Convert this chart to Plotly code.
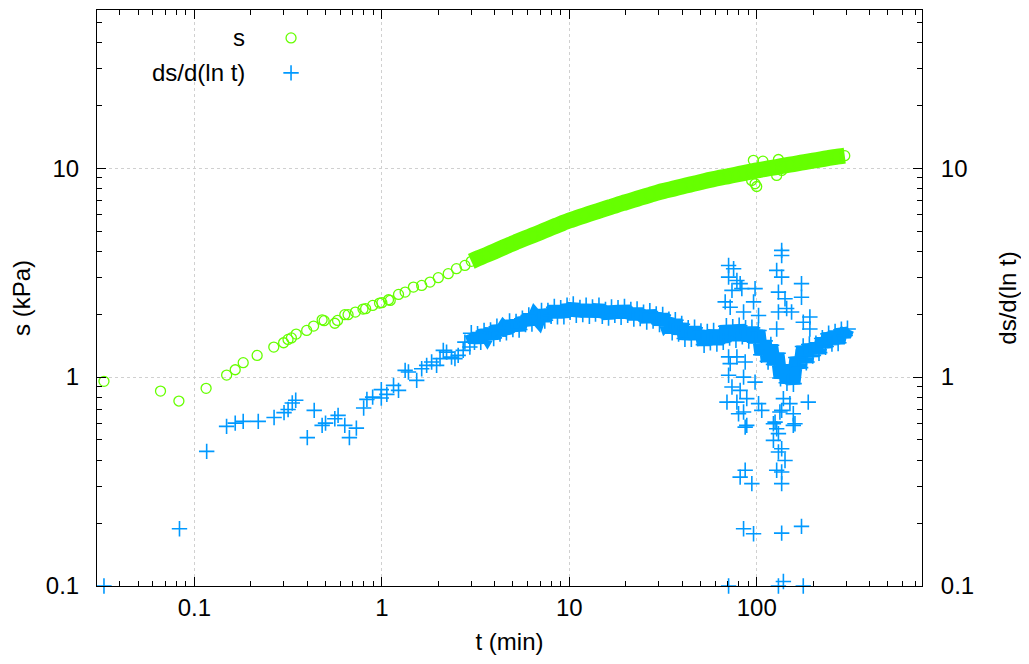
import plotly.graph_objects as go

# ---------------- data ----------------
# drawdown s (kPa), sparse early points and scattered late points
t_s_sparse = [0.0329, 0.0659, 0.0826, 0.1154, 0.1485, 0.165, 0.182, 0.216, 0.265, 0.299,
              0.3157, 0.329, 0.349, 0.397, 0.4323, 0.48, 0.492, 0.561, 0.58, 0.634,
              0.66, 0.722, 0.793, 0.819, 0.893, 0.972, 1.0, 1.085, 1.108, 1.227,
              1.331, 1.474, 1.631, 1.807, 2.0, 2.26, 2.5, 2.773,
              94, 98, 100, 96, 108, 130.6, 127.8, 136, 112]
s_sparse = [0.954, 0.857, 0.768, 0.883, 1.022, 1.084, 1.172, 1.27, 1.392, 1.46,
            1.514, 1.54, 1.606, 1.673, 1.754, 1.88, 1.862, 1.81, 1.867, 1.99,
            1.99, 2.047, 2.115, 2.125, 2.203, 2.26, 2.27, 2.345, 2.328, 2.487,
            2.551, 2.696, 2.747, 2.848, 2.99, 3.125, 3.302, 3.422,
            8.73, 8.42, 8.17, 10.9, 10.8, 11.0, 9.23, 9.75, 9.75]

# drawdown s (kPa), dense part of the record
t_s_dense = [3.0, 3.3, 3.6, 4.0, 4.4, 4.8, 5.3, 5.8, 6.4, 7.0, 7.7, 8.5, 9.3, 10, 11, 12,
             13.5, 15, 16.5, 18, 20, 22, 24, 27, 30, 33, 36, 40, 44, 48, 53, 58, 64, 70,
             77, 85, 93, 100, 110, 120, 135, 150, 165, 180, 200, 220, 240, 265, 295]
s_dense = [3.58, 3.72, 3.84, 4.00, 4.15, 4.30, 4.46, 4.61, 4.77, 4.93, 5.11, 5.30, 5.48,
           5.62, 5.78, 5.93, 6.14, 6.33, 6.51, 6.68, 6.87, 7.05, 7.22, 7.45, 7.67, 7.83,
           7.98, 8.17, 8.34, 8.49, 8.68, 8.84, 9.00, 9.14, 9.30, 9.47, 9.62, 9.75, 9.90,
           10.03, 10.22, 10.39, 10.54, 10.69, 10.86, 11.02, 11.16, 11.33, 11.48]

# derivative ds/d(ln t), sparse early points and scattered late points
t_ds_sparse = [0.0329, 0.0832, 0.1162, 0.1484, 0.165, 0.182, 0.219, 0.266, 0.3006, 0.316,
               0.3326, 0.347, 0.400, 0.4355, 0.480, 0.5005, 0.561, 0.584, 0.634, 0.671,
               0.731, 0.7995, 0.832, 0.893, 0.993, 0.993, 1.063, 1.154, 1.227, 1.331,
               1.386, 1.534, 1.631, 1.734, 1.843, 1.959, 2.043, 2.127, 2.214, 2.354,
               2.454, 2.554, 2.716, 2.773, 2.948,
               70.8, 75.3, 70.8, 78.4, 81.6, 73.8, 83.3, 98, 67.9, 96.2,
               72.2, 85.1, 102.3, 135.9, 135.9, 127.8, 135.9, 130.6, 141.6, 173.4,
               173.4, 144.5, 130.6, 153.5, 192.2, 177.2, 192.2, 127.8, 70.8, 72.2,
               78.4, 86.8, 70.8, 85.1, 98, 73.8, 81.6, 69.4, 78.4, 88.5,
               102.3, 106.4, 80, 85.1, 88.5, 125.3, 135.9, 156.8, 160, 188.4,
               150.4, 138.8, 133, 86.8, 122.8, 127.8, 156.8, 130.6, 122.8, 135.9,
               130.6, 141.6, 86.8, 81.6, 94.2, 127.8, 135.9, 135.9, 85.1, 96.2,
               135.9, 173.4, 70.8, 130.6, 138.8, 177.2]
ds_sparse = [0.1, 0.188, 0.441, 0.581, 0.602, 0.614, 0.614, 0.64, 0.676, 0.70,
             0.751, 0.774, 0.513, 0.693, 0.587, 0.602, 0.632, 0.656, 0.587, 0.513,
             0.570, 0.711, 0.782, 0.802, 0.871, 0.794, 0.826, 0.913, 0.864, 1.077,
             1.057, 0.964, 1.097, 1.138, 1.18, 1.138, 1.225, 1.342, 1.317, 1.246,
             1.225, 1.27, 1.342, 1.47, 1.392,
             3.42, 3.30, 3.01, 2.90, 2.80, 2.60, 2.65, 2.65, 2.29, 2.29,
             2.16, 2.05, 1.97, 4.04, 3.82, 3.24, 3.01, 2.55, 2.37, 2.80,
             2.41, 2.13, 2.05, 2.05, 1.94, 1.83, 1.70, 1.70, 1.25, 1.16,
             1.25, 1.18, 1.02, 1.0, 0.946, 0.896, 0.864, 0.759, 0.759, 0.789,
             0.746, 0.693, 0.668, 0.680, 0.587, 0.609, 0.693, 0.668, 0.598, 0.759,
             0.746, 0.789, 0.680, 0.576, 0.598, 0.566, 0.587, 0.536, 0.498, 0.454,
             0.438, 0.399, 0.358, 0.332, 0.309, 0.358, 0.351, 0.309, 0.188, 0.178,
             0.179, 0.193, 0.1, 0.1, 0.105, 0.1]

# derivative ds/d(ln t), dense part of the record
t_ds_dense = [3.00, 3.12, 3.24, 3.37, 3.51, 3.65, 3.80, 3.95, 4.11, 4.27,
              4.44, 4.62, 4.80, 5.00, 5.20, 5.40, 5.62, 5.84, 6.08, 6.32,
              6.57, 6.84, 7.11, 7.40, 7.69, 8.00, 8.32, 8.65, 9.00, 9.36,
              9.73, 10.1, 10.5, 10.9, 11.4, 11.8, 12.3, 12.8, 13.3, 13.8,
              14.4, 15.0, 15.6, 16.2, 16.8, 17.5, 18.2, 18.9, 19.7, 20.5,
              21.3, 22.1, 23.0, 23.9, 24.9, 25.9, 26.9, 28.0, 29.1, 30.3,
              31.5, 32.7, 34.0, 35.4, 36.8, 38.3, 39.8, 41.4, 43.1, 44.8,
              46.6, 48.4, 50.4, 52.4, 54.5, 56.6, 58.9, 61.3, 63.7, 66.3,
              68.9, 71.7, 74.5, 77.5, 80.6, 83.8, 87.2, 90.7, 94.3, 98.1,
              102, 106, 110, 115, 119, 124, 129, 134, 140, 145,
              151, 157, 163, 170, 177, 184, 191, 199, 207, 215,
              224, 233, 242, 252, 262, 272, 283, 294, 305]
ds_dense = [1.62, 1.48, 1.60, 1.48, 1.66, 1.57, 1.67, 1.54, 1.74, 1.62,
            1.71, 1.64, 1.84, 1.70, 1.83, 1.69, 1.90, 1.80, 1.97, 1.81,
            1.96, 1.88, 2.07, 1.87, 2.07, 1.97, 2.16, 1.96, 2.13, 1.96,
            2.19, 2.06, 2.22, 1.99, 2.14, 2.01, 2.19, 1.97, 2.15, 2.02,
            2.19, 1.97, 2.09, 1.93, 2.15, 1.99, 2.13, 1.95, 2.16, 1.99,
            2.09, 1.91, 2.10, 1.92, 2.03, 1.85, 2.06, 1.87, 1.99, 1.80,
            1.98, 1.81, 1.88, 1.64, 1.87, 1.62, 1.79, 1.53, 1.71, 1.53,
            1.72, 1.54, 1.65, 1.43, 1.64, 1.47, 1.66, 1.45, 1.61, 1.48,
            1.75, 1.55, 1.73, 1.51, 1.76, 1.57, 1.71, 1.50, 1.72, 1.47,
            1.67, 1.28, 1.49, 1.19, 1.42, 1.15, 1.30, 0.99, 1.14, 0.94,
            1.06, 0.93, 1.24, 1.11, 1.40, 1.18, 1.43, 1.27, 1.44, 1.31,
            1.53, 1.40, 1.61, 1.45, 1.64, 1.46, 1.68, 1.58, 1.70]

x_ticks = [0.1, 1, 10, 100]
x_tick_text = ["0.1", "1", "10", "100"]
y_ticks = [0.1, 1, 10]
y_tick_text = ["0.1", "1", "10"]
x_minor = [0.04, 0.05, 0.06, 0.07, 0.08, 0.09] + [m * 0.1 for m in range(2, 10)] + \
          [m for m in range(2, 10)] + [m * 10 for m in range(2, 10)] + [200, 300, 400, 500, 600, 700]
y_minor = [m * 0.1 for m in range(2, 10)] + [m for m in range(2, 10)] + [20, 30, 40, 50]

labels = ["s", "ds/d(ln t)"]

# ---------------- style ----------------
GREEN = "#66ff00"
BLUE = "#0099ff"
FONT = "Liberation Sans, Arial, Helvetica, sans-serif"
FS = 24
X_RANGE = [-1.52, 2.882]
Y_RANGE = [-1.0, 1.757]

fig = go.Figure()

# s : dense band + sparse circles
fig.add_trace(go.Scatter(
    x=t_s_dense, y=s_dense, mode="lines+markers", name=labels[0], showlegend=False,
    line=dict(color=GREEN, width=16, shape="spline", smoothing=0.8),
    marker=dict(symbol="circle-open", size=10, color=GREEN, line=dict(width=1.3)),
))
fig.add_trace(go.Scatter(
    x=t_s_sparse, y=s_sparse, mode="markers", name=labels[0], showlegend=False,
    marker=dict(symbol="circle-open", size=10, color=GREEN, line=dict(width=1.3)),
))

# ds/d(ln t) : dense band + sparse crosses (right axis)
fig.add_trace(go.Scatter(
    x=t_ds_dense, y=ds_dense, mode="lines+markers", name=labels[1], showlegend=False,
    yaxis="y2",
    line=dict(color=BLUE, width=14),
    marker=dict(symbol="cross-thin-open", size=12, color=BLUE, line=dict(width=1.6, color=BLUE)),
))
fig.add_trace(go.Scatter(
    x=t_ds_sparse, y=ds_sparse, mode="markers", name=labels[1], showlegend=False,
    yaxis="y2", cliponaxis=False,
    marker=dict(symbol="cross-thin-open", size=11, color=BLUE, line=dict(width=1.6, color=BLUE)),
))

# key (text left of symbol, as in the reference)
key_x = 0.2352
key_y = [0.9515, 0.8908]
fig.add_trace(go.Scatter(
    x=[key_x], y=[key_y[0]], xaxis="x2", yaxis="y3", mode="markers", showlegend=False,
    hoverinfo="skip",
    marker=dict(symbol="circle-open", size=10, color=GREEN, line=dict(width=1.3)),
))
fig.add_trace(go.Scatter(
    x=[key_x], y=[key_y[1]], xaxis="x2", yaxis="y3", mode="markers", showlegend=False,
    hoverinfo="skip",
    marker=dict(symbol="cross-thin-open", size=11, color=BLUE, line=dict(width=1.6, color=BLUE)),
))
for lab, yy in zip(labels, key_y):
    fig.add_annotation(text=lab, xref="paper", yref="paper", x=0.1815, y=yy,
                       xanchor="right", yanchor="middle", showarrow=False,
                       font=dict(family=FONT, size=FS, color="black"))

axis_common = dict(
    type="log", showline=True, linecolor="black", linewidth=1,
    ticks="inside", ticklen=9, tickwidth=1, tickcolor="black",
    tickfont=dict(family=FONT, size=FS, color="black"),
    zeroline=False,
)
GRID = dict(showgrid=True, gridcolor="#d0d0d0", griddash="dot", gridwidth=1)

# the page body has an 8 px margin, so the figure is 16 px smaller than the window
fig.update_layout(
    width=1013, height=648,
    margin=dict(l=89, r=95, t=1, b=70),
    paper_bgcolor="white", plot_bgcolor="white",
    font=dict(family=FONT, size=FS, color="black"),
    xaxis=dict(
        **axis_common, **GRID, range=X_RANGE, mirror="ticks",
        tickvals=x_ticks, ticktext=x_tick_text, ticklabelstandoff=0,
        minor=dict(tickvals=x_minor, ticks="inside", ticklen=5, tickcolor="black", showgrid=False),
        title=dict(text="t (min)", standoff=13, font=dict(family=FONT, size=FS)),
    ),
    yaxis=dict(
        **axis_common, **GRID, range=Y_RANGE, mirror=False,
        tickvals=y_ticks, ticktext=y_tick_text, ticklabelstandoff=12,
        minor=dict(tickvals=y_minor, ticks="inside", ticklen=5, tickcolor="black", showgrid=False),
        title=dict(text="s (kPa)", standoff=19, font=dict(family=FONT, size=FS)),
    ),
    yaxis2=dict(
        **axis_common, range=Y_RANGE, overlaying="y", side="right",
        tickvals=y_ticks, ticktext=y_tick_text, ticklabelstandoff=13,
        showgrid=False,
        minor=dict(tickvals=y_minor, ticks="inside", ticklen=5, tickcolor="black", showgrid=False),
        title=dict(text="ds/d(ln t)", standoff=29, font=dict(family=FONT, size=FS)),
    ),
    xaxis2=dict(overlaying="x", range=[0, 1], visible=False),
    yaxis3=dict(overlaying="y", range=[0, 1], visible=False),
)

fig.write_html("out.html")
